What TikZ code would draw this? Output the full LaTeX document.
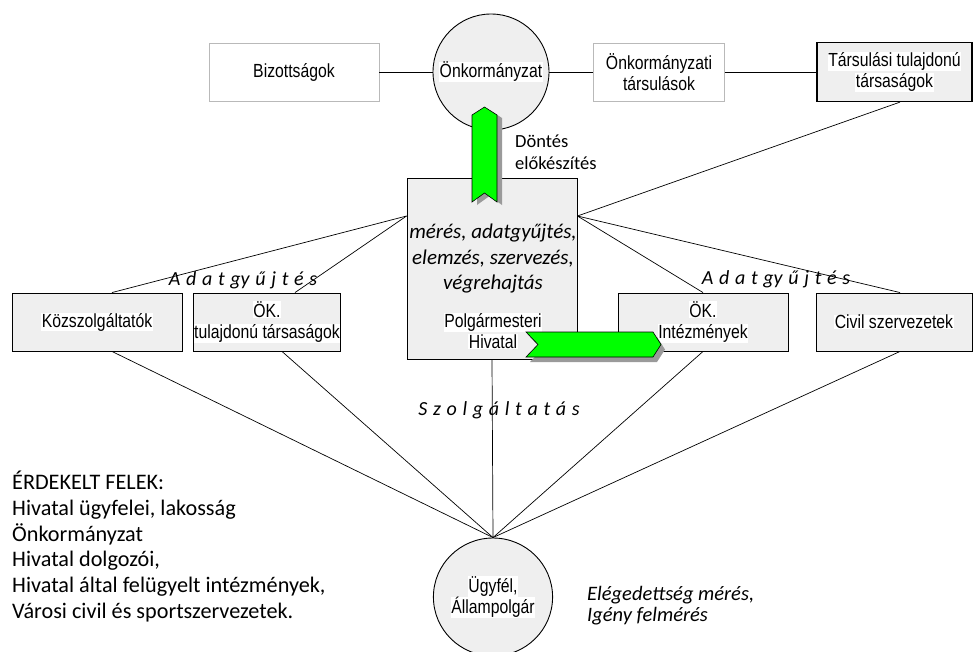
\documentclass[tikz,border=0pt]{standalone}
\usepackage{fontspec}
\usetikzlibrary{shapes.geometric}
\setmainfont{Carlito}
\newfontfamily\arialf[FakeStretch=0.83]{Liberation Sans}
\definecolor{boxgray}{HTML}{EFEFEF}
\definecolor{arrowgreen}{HTML}{00FF00}
\definecolor{shadowgray}{HTML}{9A9A9A}
\newcommand\hl[1]{{\fboxsep=0.5pt\colorbox{white}{#1}}}
\newcommand\widespace{\spaceskip=5.7pt\relax}
\tikzset{
  unit/.style={draw=black, line width=0.9pt, fill=boxgray, inner sep=0pt, align=center,
    font=\arialf\fontsize{19}{21.5}\selectfont},
  plainbox/.style={unit, draw=gray!55, line width=0.7pt, fill=white},
  link/.style={line width=0.7pt},
  spaced/.style={inner sep=0pt, font=\itshape\fontsize{20}{22}\selectfont\widespace},
  bigarrow/.style={draw=black, line width=0.6pt, fill=arrowgreen},
  arrowshadow/.style={fill=shadowgray}
}
\begin{document}
\begin{tikzpicture}[x=1pt, y=-1pt]
  \useasboundingbox (0,0) rectangle (975,651);
  % top row
  \node[plainbox, minimum width=170, minimum height=58] (biz) at (294,72) {Bizottságok};
  \node[unit, circle, minimum size=116] (onk) at (491,72) {\hl{Önkormányzat}};
  \node[plainbox, minimum width=131, minimum height=58] (otars) at (659,72) {Önkormányzati\\társulások};
  \node[unit, line width=1.2pt, minimum width=155, minimum height=59] (ttars) at (894.5,72) {\hl{Társulási tulajdonú}\\\hl{társaságok}};
  % hivatal
  \node[unit, minimum width=170, minimum height=181] (hiv) at (492,269) {};
  \node[inner sep=0pt, align=center, font=\itshape\fontsize{21}{25.5}\selectfont] (hivtxt) at (493,259) {mérés, adatgyűjtés,\\elemzés, szervezés,\\végrehajtás};
  \node[inner sep=0pt, align=center, font=\arialf\fontsize{19}{21.5}\selectfont] (hivname) at (493,331) {\hl{Polgármesteri}\\\hl{Hivatal}};
  % second row
  \node[unit, minimum width=170, minimum height=58] (kozsz) at (97,322) {\hl{Közszolgáltatók}};
  \node[unit, minimum width=145, minimum height=58] (oktars) at (267,322) {\hl{ÖK.}\\\hl{tulajdonú társaságok}};
  \node[unit, minimum width=170, minimum height=58] (okint) at (703,322) {\hl{ÖK.}\\\hl{Intézmények}};
  \node[unit, minimum width=156, minimum height=58] (civil) at (894,322) {\hl{Civil szervezetek}};
  \node[unit, ellipse, minimum width=119, minimum height=118] (ugyfel) at (493,597) {\hl{Ügyfél,}\\\hl{Állampolgár}};
  \coordinate (hivL) at ([yshift=53pt]hiv.west);
  \coordinate (hivR) at ([yshift=53pt]hiv.east);
  \draw[link] (biz.east) -- (onk.west);
  \draw[link] (onk.east) -- (otars.west);
  \draw[link] (otars.east) -- (ttars.west);
  \draw[link] (hivR) -- ([xshift=5.5pt]ttars.south);
  \draw[link] (hivR) -- (okint.north);
  \draw[link] (hivR) -- ([xshift=6pt]civil.north);
  \draw[link] (hivL) -- ([xshift=15pt]kozsz.north);
  \draw[link] (hivL) -- ([xshift=28pt]oktars.north);
  \foreach \src/\dx in {kozsz/15, oktars/15, hiv/0, okint/0, civil/6}
    \draw[link] ([xshift=\dx pt]\src.south) -- (ugyfel.north);
  % green arrows
  \fill[arrowshadow, shift={(5,3)}] (472,115) -- (484.5,107) -- (497,115) -- (497,202) -- (484.5,193) -- (472,202) -- cycle;
  \draw[bigarrow] (472,115) -- (484.5,107) -- (497,115) -- (497,202) -- (484.5,193) -- (472,202) -- cycle;
  \fill[arrowshadow, shift={(4,5)}] (526,332) -- (653,332) -- (661,344.5) -- (653,357) -- (526,357) -- (538,344.5) -- cycle;
  \draw[bigarrow] (526,332) -- (653,332) -- (661,344.5) -- (653,357) -- (526,357) -- (538,344.5) -- cycle;
  % labels
  \node[inner sep=0pt, align=left, anchor=north west, font=\fontsize{18.5}{22}\selectfont] (dontes) at (515,135) {Döntés\\előkészítés};
  \node[spaced] (adat1) at (243,280) {A d a t gy ű j t é s};
  \node[spaced] (adat2) at (776,279) {A d a t gy ű j t é s};
  \node[spaced] (szolg) at (499,410) {S z o l g á l t a t á s};
  \node[inner sep=0pt, align=left, anchor=north west, font=\fontsize{22.2}{25.7}\selectfont] (felek) at (12,471) {ÉRDEKELT FELEK:\\Hivatal ügyfelei, lakosság\\Önkormányzat\\Hivatal dolgozói,\\Hivatal által felügyelt intézmények,\\Városi civil és sportszervezetek.};
  \node[inner sep=0pt, align=left, anchor=north west, font=\itshape\fontsize{20.5}{21.5}\selectfont] (meres) at (587,586) {Elégedettség mérés,\\Igény felmérés};
\end{tikzpicture}
\end{document}
